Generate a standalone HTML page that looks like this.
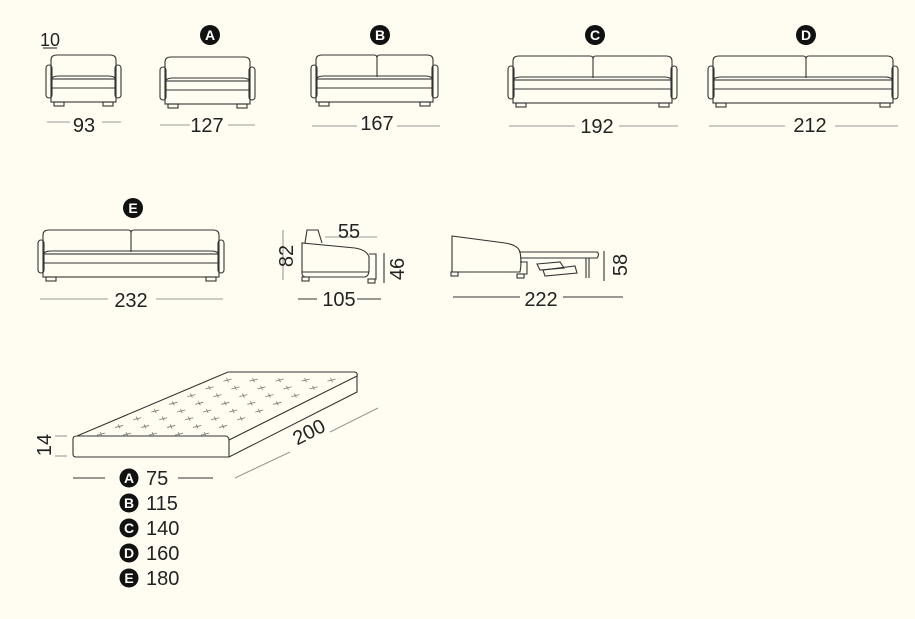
<!DOCTYPE html>
<html><head><meta charset="utf-8"><style>
html,body{margin:0;padding:0;background:#fffdf2}
svg{display:block}
text{font-family:"Liberation Sans",sans-serif;fill:#222}
</style></head><body>
<svg id="s" width="915" height="619" viewBox="0 0 915 619" xmlns="http://www.w3.org/2000/svg">
<rect width="915" height="619" fill="#fffdf2"/>
<g id="g" fill="none" stroke="#333" stroke-width="1.1"></g>
<g font-size="20" text-anchor="middle">
<text x="50" y="46" text-anchor="middle" font-size="18">10</text>
<text x="84" y="132">93</text>
<text x="207" y="132">127</text>
<text x="377" y="130">167</text>
<text x="597" y="133">192</text>
<text x="810" y="132">212</text>
<text x="131" y="307">232</text>
<text x="349" y="238">55</text>
<text x="339" y="306">105</text>
<text x="541" y="306">222</text>
<text transform="translate(293,256) rotate(-90)">82</text>
<text transform="translate(404,269) rotate(-90)">46</text>
<text transform="translate(627,265) rotate(-90)">58</text>
<text transform="translate(51,445) rotate(-90)">14</text>
<text transform="translate(312,438) rotate(-27)">200</text>
</g>
<g id="lg"></g>
</svg>
<script>
var g=document.getElementById('g'),lg=document.getElementById('lg');
var h='';
function L(x1,y1,x2,y2,c){h+='<line x1="'+x1+'" y1="'+y1+'" x2="'+x2+'" y2="'+y2+'" stroke="'+(c||'#333')+'"/>';}
function sofa(x1,x2,t,div){
 var b=t+47;
 h+='<rect x="'+x1+'" y="'+(t+10)+'" width="6" height="'+(b-t-14)+'" rx="3"/>';
 h+='<rect x="'+(x2-6)+'" y="'+(t+10)+'" width="6" height="'+(b-t-14)+'" rx="3"/>';
 var a=x1+5,c=x2-5;
 if(div){
  h+='<path d="M'+a+' '+(t+24)+' V'+(t+5)+' Q'+a+' '+t+' '+(a+6)+' '+t+' H'+(div-3)+' Q'+div+' '+t+' '+div+' '+(t+3)+' Q'+div+' '+t+' '+(div+3)+' '+t+' H'+(c-6)+' Q'+c+' '+t+' '+c+' '+(t+5)+' V'+(t+24)+'"/>';
  L(div,t+3,div,t+22);
 } else h+='<path d="M'+a+' '+(t+24)+' V'+(t+5)+' Q'+a+' '+t+' '+(a+6)+' '+t+' H'+(c-6)+' Q'+c+' '+t+' '+c+' '+(t+5)+' V'+(t+24)+'"/>';
 h+='<path d="M'+a+' '+(t+26)+' Q'+a+' '+(t+21)+' '+(a+8)+' '+(t+21)+' H'+(c-8)+' Q'+c+' '+(t+21)+' '+c+' '+(t+26)+'"/>';
 L(a,t+33,c,t+33);
 h+='<rect x="'+a+'" y="'+(t+24)+'" width="'+(c-a)+'" height="'+(b-t-24)+'"/>';
 h+='<rect x="'+(a+3)+'" y="'+b+'" width="10" height="4"/>';
 h+='<rect x="'+(c-13)+'" y="'+b+'" width="10" height="4"/>';
}
sofa(46,121,55,0);sofa(160,255,57,0);sofa(311,438,55,377);sofa(508,677,56,593);sofa(708,898,56,806);sofa(38,224,230,131);
var gr='#999';
L(47,122,70,122,gr);L(102,122,121,122,gr);
L(160,125,190,125,gr);L(228,125,255,125,gr);
L(312,126,357,126,gr);L(397,126,440,126,gr);
L(509,126,575,126,gr);L(619,126,678,126,gr);
L(709,126,785,126,gr);L(835,126,898,126,gr);
L(40,299,108,299,gr);L(156,299,223,299,gr);
L(43,48,57,48,'#333');
L(325,237,377,237,gr);L(283,230,283,280,gr);
L(298,299,317,299,'#333');L(357,299,381,299,'#333');
L(384,253,384,283,'#333');
h+='<path d="M305 243 L307 230 L318 230 L322 243"/>';
h+='<path d="M302 243 L302 274 Q303 277 306 277 L365 277 Q369 276 369 270 L369 257 Q367 250 355 248 Z"/>';
h+='<path d="M369 254 L376 254 L376 279 L369 279"/>';
L(302,272,369,272);
h+='<rect x="302" y="277" width="7" height="4"/><rect x="368" y="279" width="7" height="4"/>';
h+='<path d="M452 236 L452 272 L520 272 Q522 262 520 252 Q518 245 505 243 Z"/>';
h+='<path d="M519 252 L597 252 Q600 254 597 258 L520 258"/>';
h+='<path d="M520 262 L527 262 L527 274 L520 274"/>';
h+='<path d="M537 264 L560 262 L564 268 L540 270 Z"/><path d="M543 270 L575 266 L577 273 L545 276 Z"/>';
L(586,258,586,278);L(589,258,589,278);
h+='<rect x="451" y="272" width="7" height="4"/><rect x="517" y="274" width="7" height="4"/>';
L(604,251,604,281,'#333');
L(453,297,520,297,'#333');L(563,297,623,297,'#333');
h+='<path d="M73 439 Q73 436 77 436 L228 372 L355 372 Q358 373 357 376 L357 392 L229 457 L76 457 Q73 457 73 454 Z"/>';
L(77,436,226,436);h+='<path d="M226 436 Q229 437 229 440 L229 457"/>';L(229,440,357,376);
L(55,436,67,436,gr);L(55,456,67,456,gr);
L(235,478,290,452,gr);L(330,432,378,408,gr);
L(73,478,105,478,'#333');L(178,478,213,478,'#333');
for(var r=0;r<8;r++){for(var k=0;k<6;k++){
 var f=(r+0.5)/8.3; var y=436-f*64+2; var x0=80+f*150;
 var x=x0+12+k*26; if(x>=220+f*130)continue;
 h+='<path d="M'+(x-4)+' '+(y+1)+' L'+(x+4)+' '+(y-1)+' M'+(x-1)+' '+(y-2)+' L'+(x+1)+' '+(y+2)+'" stroke="#777" stroke-width="0.8"/>';
}}
g.innerHTML=h;
var b='';
function badge(x,y,l,s){b+='<circle cx="'+x+'" cy="'+y+'" r="'+(s||10)+'" fill="#111"/><text x="'+x+'" y="'+(y+5)+'" text-anchor="middle" font-size="14" font-weight="bold" style="fill:#fff">'+l+'</text>';}
badge(210,35,'A');badge(380,35,'B');badge(595,35,'C');badge(806,35,'D');badge(133,208,'E');
var v=['75','115','140','160','180'],ls='ABCDE';
for(var i=0;i<5;i++){badge(129,478+25*i,ls[i],9.5);b+='<text x="146" y="'+(485+25*i)+'" font-size="20">'+v[i]+'</text>';}
lg.innerHTML=b;
</script>
</body></html>
